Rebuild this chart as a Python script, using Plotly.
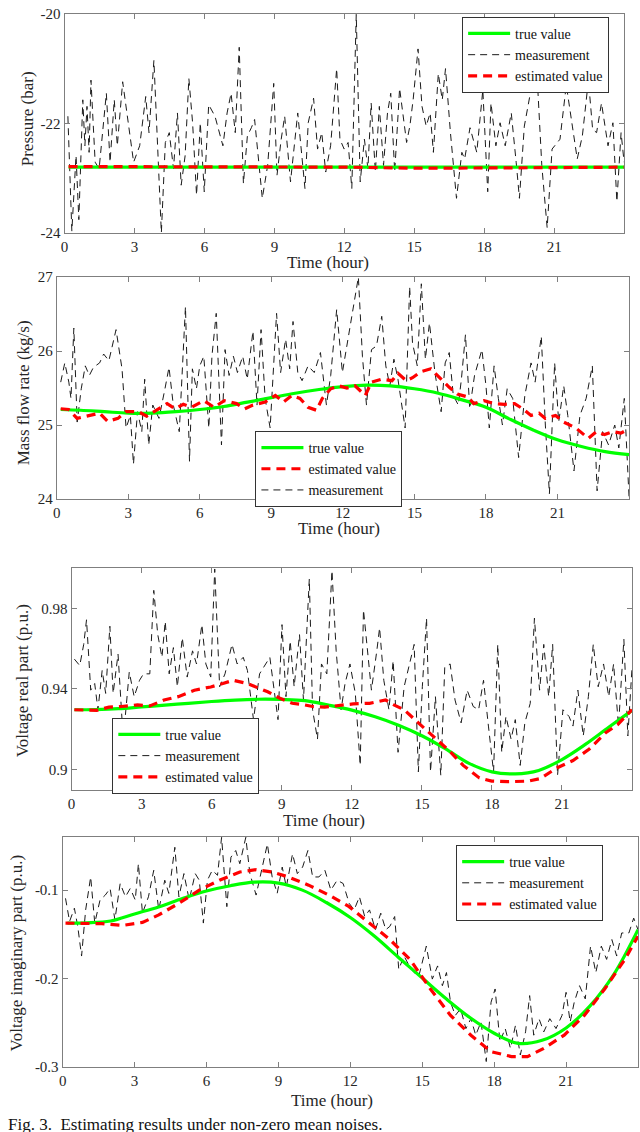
import plotly.graph_objects as go

# ---------------- data ----------------
# panel 1 : pressure
p1_true_t = [0.17, 24.0]
p1_true_v = [-22.8, -22.8]
p1_est_t = [0.17, 3, 6, 9, 12, 15, 18, 21, 24]
p1_est_v = [-22.79, -22.79, -22.8, -22.8, -22.8, -22.82, -22.82, -22.81, -22.8]
p1_meas_t = [0.14, 0.31, 0.49, 0.61, 0.78, 0.87, 0.96, 1.05, 1.13, 1.31, 1.48, 1.79, 1.95, 2.13, 2.26,
             2.49, 2.96, 3.22, 3.48, 3.62, 3.83, 4.01, 4.15, 4.32, 4.49, 4.67, 4.84, 5.0, 5.17, 5.33,
             5.49, 5.66, 5.82, 5.99, 6.18, 6.45, 6.79, 6.97, 7.14, 7.32, 7.49, 7.67, 7.84, 8.01, 8.15,
             8.48, 8.71, 8.97, 9.11, 9.29, 9.44, 9.69, 10.0, 10.31, 10.45, 10.68, 10.85, 11.03, 11.2,
             11.41, 11.67, 11.81, 11.99, 12.16, 12.32, 12.51, 12.68, 12.86, 13.01, 13.15, 13.33, 13.5,
             13.68, 13.85, 13.99, 14.16, 14.37, 14.67, 14.81, 14.95, 15.16, 15.33, 15.51, 15.68, 15.82,
             16.03, 16.2, 16.34, 16.55, 16.81, 17.04, 17.16, 17.39, 17.68, 17.94, 18.15, 18.29, 18.5,
             18.68, 18.9, 19.16, 19.37, 19.51, 19.72, 20.03, 20.3, 20.47, 20.7, 20.91, 21.25, 21.52,
             21.78, 21.99, 22.21, 22.47, 22.65, 22.82, 23.03, 23.31, 23.52, 23.69, 23.87, 24.0]
p1_meas_v = [-21.87, -23.97, -22.59, -23.76, -21.57, -22.41, -21.69, -22.53, -21.21, -22.71, -22.83,
             -21.45, -22.71, -21.57, -22.41, -21.24, -22.71, -22.41, -21.51, -22.17, -20.85, -22.77,
             -24.0, -22.35, -22.17, -22.83, -21.81, -23.13, -22.59, -21.18, -21.99, -23.31, -21.99,
             -23.25, -21.66, -21.87, -22.41, -21.81, -21.45, -22.17, -20.61, -23.1, -22.23, -22.08,
             -21.93, -23.37, -22.77, -21.27, -22.95, -22.29, -21.87, -23.07, -21.81, -23.19, -21.99,
             -21.54, -22.47, -22.17, -22.89, -22.41, -21.0, -22.29, -22.47, -22.35, -23.19, -20.01,
             -23.07, -22.29, -22.83, -21.63, -22.89, -21.69, -22.77, -21.81, -21.45, -22.89, -21.36,
             -22.35, -22.05, -21.57, -20.64, -21.69, -22.05, -21.81, -22.53, -21.09, -21.57, -21.0,
             -22.17, -23.37, -22.53, -22.65, -22.08, -22.53, -21.39, -23.25, -21.63, -22.41, -21.99,
             -22.41, -21.81, -22.71, -23.37, -22.05, -21.33, -21.39, -22.77, -23.91, -22.47, -22.29,
             -21.3, -22.05, -22.65, -22.23, -21.21, -22.11, -22.17, -21.63, -22.41, -21.99, -23.43,
             -22.17, -22.71]

# panel 2 : mass flow rate
p2_true_t = [0.17, 1, 2, 3, 4, 5, 6, 7, 8, 9, 10, 11, 12, 13, 14, 15, 16, 17, 18, 19, 20, 21, 22, 23, 24]
p2_true_v = [25.21, 25.2, 25.18, 25.16, 25.16, 25.18, 25.21, 25.25, 25.31, 25.37, 25.43, 25.48, 25.52,
             25.54, 25.53, 25.49, 25.43, 25.34, 25.24, 25.08, 24.93, 24.8, 24.71, 24.64, 24.6]
p2_est_t = [0.17, 0.5, 0.86, 1.37, 1.8, 2.14, 2.57, 2.91, 3.43, 3.77, 4.29, 4.63, 4.97, 5.31, 5.66, 6.17,
            6.6, 7.03, 7.54, 7.89, 8.23, 8.74, 9.17, 9.51, 9.86, 10.2, 10.54, 10.89, 11.14, 11.49, 11.83,
            12.17, 12.51, 12.94, 13.2, 13.63, 14.06, 14.31, 14.66, 14.92, 15.26, 15.69, 16.12, 16.46,
            16.8, 17.23, 17.49, 17.92, 18.34, 18.77, 19.2, 19.54, 19.89, 20.23, 20.49, 20.92, 21.26,
            21.77, 22.29, 22.63, 22.97, 23.32, 23.66, 24.0]
p2_est_v = [25.22, 25.21, 25.09, 25.13, 25.16, 25.05, 25.09, 25.18, 25.18, 25.12, 25.22, 25.29, 25.22,
            25.28, 25.24, 25.33, 25.24, 25.33, 25.29, 25.22, 25.27, 25.31, 25.4, 25.31, 25.4, 25.36,
            25.24, 25.2, 25.36, 25.49, 25.53, 25.5, 25.53, 25.4, 25.58, 25.62, 25.6, 25.7, 25.6, 25.64,
            25.72, 25.76, 25.62, 25.51, 25.42, 25.38, 25.29, 25.33, 25.29, 25.28, 25.29, 25.22, 25.13,
            25.16, 25.09, 25.13, 25.04, 24.96, 24.82, 24.91, 24.87, 24.91, 24.89, 24.95]
p2_meas_t = [0.17, 0.34, 0.51, 0.6, 0.72, 0.86, 1.03, 1.2, 1.37, 1.54, 1.8, 1.97, 2.19, 2.49, 2.74, 2.91,
             3.09, 3.22, 3.39, 3.57, 3.69, 3.86, 4.03, 4.29, 4.54, 4.71, 4.89, 5.14, 5.4, 5.57, 5.69,
             5.86, 6.0, 6.17, 6.38, 6.51, 6.69, 6.91, 7.06, 7.23, 7.41, 7.58, 7.8, 7.99, 8.23, 8.4, 8.57,
             8.74, 8.95, 9.22, 9.39, 9.6, 9.77, 9.91, 10.11, 10.29, 10.54, 10.8, 11.06, 11.31, 11.49,
             11.74, 11.98, 12.34, 12.65, 12.82, 12.99, 13.2, 13.41, 13.63, 13.8, 13.97, 14.14, 14.31,
             14.61, 14.8, 14.92, 15.12, 15.29, 15.46, 15.63, 15.86, 16.12, 16.29, 16.46, 16.63, 16.84,
             16.97, 17.14, 17.32, 17.52, 17.83, 18.0, 18.14, 18.34, 18.52, 18.69, 18.89, 19.12, 19.37,
             19.63, 19.89, 20.06, 20.32, 20.49, 20.66, 20.88, 21.05, 21.26, 21.43, 21.69, 21.94, 22.2,
             22.46, 22.66, 22.89, 23.14, 23.4, 23.57, 23.8, 24.0]
p2_meas_v = [25.58, 25.84, 25.58, 25.36, 26.31, 25.04, 25.49, 25.8, 25.67, 25.78, 25.84, 25.96, 25.87,
             26.29, 25.76, 24.96, 25.13, 24.47, 25.18, 24.91, 25.62, 24.73, 25.27, 25.09, 25.49, 25.78,
             25.27, 24.91, 26.6, 24.51, 25.76, 25.49, 25.8, 25.93, 24.96, 25.93, 26.51, 24.73, 26.02,
             25.67, 25.93, 25.71, 25.93, 25.62, 26.27, 25.27, 26.29, 25.36, 24.96, 26.51, 25.71, 26.16,
             25.76, 26.4, 25.71, 25.6, 25.8, 25.71, 25.98, 25.27, 25.67, 26.56, 25.71, 26.38, 27.0,
             25.93, 25.27, 26.02, 26.07, 26.47, 25.8, 25.53, 25.89, 25.62, 24.96, 26.87, 26.11, 25.8,
             26.91, 25.89, 26.38, 25.71, 25.18, 25.84, 25.98, 25.4, 25.27, 25.62, 26.22, 25.22, 25.67,
             26.02, 25.53, 24.96, 25.8, 25.36, 25.0, 25.49, 25.36, 24.56, 25.4, 25.84, 25.58, 26.2,
             25.0, 24.07, 25.84, 25.04, 25.53, 25.13, 24.38, 25.13, 25.36, 25.8, 24.11, 24.91, 24.73,
             25.0, 24.69, 25.36, 24.02]

# panel 3 : voltage real part
p3_true_t = [0.12, 1, 2, 3, 4, 5, 6, 7, 8, 9, 10, 11, 12, 13, 14, 15, 16, 17, 18, 19, 20, 21, 22, 23, 24]
p3_true_v = [0.9297, 0.9298, 0.9302, 0.9311, 0.932, 0.9329, 0.9338, 0.9345, 0.9349, 0.9348, 0.9342,
             0.932, 0.9295, 0.9262, 0.922, 0.9168, 0.9104, 0.9032, 0.8989, 0.8979, 0.8996, 0.905,
             0.9125, 0.921, 0.9294]
p3_est_t = [0.12, 1.08, 1.6, 2.13, 2.82, 3.35, 3.96, 4.57, 5.26, 5.96, 6.48, 6.92, 7.53, 8.05, 8.4, 8.92,
            9.45, 9.97, 10.32, 10.84, 11.36, 12.06, 12.76, 13.45, 13.8, 14.24, 14.85, 15.55, 16.24,
            16.77, 17.46, 17.99, 18.68, 19.55, 20.08, 20.77, 21.47, 22.17, 22.87, 23.39, 24.0]
p3_est_v = [0.9297, 0.9294, 0.931, 0.9313, 0.9321, 0.9316, 0.9345, 0.9362, 0.9394, 0.941, 0.9427,
            0.9443, 0.9427, 0.9402, 0.9386, 0.9354, 0.9329, 0.9321, 0.9313, 0.931, 0.9316, 0.9326,
            0.9329, 0.9345, 0.9321, 0.9297, 0.9232, 0.9159, 0.9086, 0.9021, 0.8959, 0.8943, 0.894,
            0.8943, 0.8956, 0.9008, 0.9045, 0.9102, 0.9183, 0.9224, 0.9297]
p3_meas_t = [0.12, 0.35, 0.52, 0.64, 0.82, 0.99, 1.13, 1.31, 1.46, 1.64, 1.78, 1.99, 2.16, 2.3, 2.47,
             2.68, 2.91, 3.08, 3.35, 3.52, 3.69, 3.87, 4.01, 4.18, 4.36, 4.53, 4.74, 4.95, 5.18, 5.35,
             5.58, 5.75, 5.96, 6.13, 6.34, 6.57, 6.87, 7.09, 7.35, 7.53, 7.79, 8.05, 8.49, 8.84, 9.01,
             9.18, 9.36, 9.53, 9.76, 9.93, 10.18, 10.32, 10.53, 10.7, 10.93, 11.15, 11.33, 11.54,
             11.71, 11.92, 12.15, 12.36, 12.5, 12.67, 12.84, 13.07, 13.19, 13.37, 13.59, 13.77, 13.98,
             14.24, 14.47, 14.67, 14.85, 15.02, 15.2, 15.37, 15.58, 15.81, 15.98, 16.21, 16.42, 16.68,
             16.94, 17.2, 17.43, 17.64, 17.85, 18.07, 18.25, 18.42, 18.6, 18.82, 19.0, 19.21, 19.41,
             19.64, 19.82, 20.04, 20.22, 20.43, 20.6, 20.81, 21.04, 21.3, 21.47, 21.68, 21.91, 22.13,
             22.34, 22.55, 22.78, 23.0, 23.21, 23.42, 23.65, 23.82, 24.0]
p3_meas_v = [0.9548, 0.9516, 0.9621, 0.9743, 0.9394, 0.9427, 0.9297, 0.9492, 0.9378, 0.9711, 0.9378,
             0.9573, 0.9248, 0.9264, 0.9484, 0.9362, 0.9443, 0.9475, 0.9475, 0.9889, 0.967, 0.9557,
             0.9735, 0.9475, 0.9605, 0.9411, 0.9654, 0.9459, 0.9589, 0.9524, 0.9719, 0.9524, 0.9459,
             0.9995, 0.9411, 0.9475, 0.9621, 0.9524, 0.9557, 0.9492, 0.9248, 0.9475, 0.9557, 0.9248,
             0.9719, 0.9362, 0.9638, 0.9411, 0.967, 0.9345, 0.9946, 0.9297, 0.9151, 0.9524, 0.9475,
             0.9987, 0.9589, 0.9297, 0.9427, 0.9524, 0.9378, 0.9021, 0.9792, 0.9573, 0.9394, 0.9589,
             0.9703, 0.9443, 0.9297, 0.954, 0.9086, 0.9411, 0.9524, 0.9621, 0.8989, 0.9411, 0.9751,
             0.8989, 0.9362, 0.8972, 0.9508, 0.9524, 0.9345, 0.9232, 0.9394, 0.9313, 0.9297, 0.9443,
             0.9216, 0.8989, 0.9621, 0.9086, 0.9264, 0.9151, 0.9248, 0.9021, 0.9232, 0.9329, 0.9751,
             0.9394, 0.9621, 0.9362, 0.9621, 0.8972, 0.9297, 0.9264, 0.9216, 0.9394, 0.9167, 0.9362,
             0.9621, 0.9411, 0.9524, 0.9362, 0.9524, 0.9216, 0.9646, 0.9167, 0.9508]

# panel 4 : voltage imaginary part
p4_true_t = [0.2, 1, 2, 3, 4, 5, 6, 7, 8, 9, 10, 11, 12, 13, 14, 15, 16, 17, 18, 19, 20, 21, 22, 23, 24]
p4_true_v = [-0.1373, -0.137, -0.135, -0.127, -0.119, -0.1095, -0.101, -0.095, -0.091, -0.092, -0.1,
             -0.114, -0.131, -0.152, -0.176, -0.1995, -0.223, -0.2445, -0.262, -0.2735, -0.27, -0.256,
             -0.231, -0.195, -0.1448]
p4_est_t = [0.12, 1.64, 2.49, 3.33, 4.01, 4.85, 5.7, 6.54, 7.39, 8.07, 8.74, 9.42, 10.26, 11.11, 11.95,
            12.8, 13.65, 14.49, 15.34, 16.18, 17.03, 17.87, 18.72, 19.39, 20.07, 20.92, 21.76, 22.61,
            23.45, 24.0]
p4_est_v = [-0.1373, -0.138, -0.14, -0.1366, -0.128, -0.1149, -0.1, -0.0888, -0.0795, -0.0769, -0.0795,
            -0.0851, -0.0944, -0.1056, -0.1187, -0.1373, -0.156, -0.1784, -0.2119, -0.2418, -0.2642,
            -0.2828, -0.2884, -0.2884, -0.2791, -0.2642, -0.2418, -0.2119, -0.1784, -0.1522]
p4_meas_t = [0.12, 0.29, 0.49, 0.63, 0.79, 0.96, 1.17, 1.34, 1.56, 1.78, 1.98, 2.18, 2.4, 2.62, 2.82,
             3.03, 3.16, 3.33, 3.58, 3.8, 4.01, 4.26, 4.43, 4.68, 4.85, 5.06, 5.28, 5.53, 5.7, 5.87,
             6.04, 6.24, 6.46, 6.63, 6.85, 7.02, 7.22, 7.39, 7.64, 7.81, 8.07, 8.32, 8.54, 8.74, 8.95,
             9.16, 9.33, 9.59, 9.79, 10.01, 10.23, 10.43, 10.69, 10.94, 11.19, 11.45, 11.7, 11.95,
             12.16, 12.38, 12.6, 12.8, 13.05, 13.27, 13.48, 13.65, 13.85, 14.02, 14.24, 14.46, 14.66,
             14.86, 15.17, 15.42, 15.64, 15.84, 16.01, 16.18, 16.38, 16.6, 16.82, 17.03, 17.23, 17.45,
             17.67, 17.87, 18.04, 18.24, 18.46, 18.68, 18.89, 19.09, 19.31, 19.48, 19.65, 19.87, 20.07,
             20.32, 20.58, 20.83, 21.0, 21.17, 21.34, 21.56, 21.8, 22.02, 22.24, 22.47, 22.69, 22.91,
             23.11, 23.32, 23.62, 23.82, 24.0]
p4_meas_v = [-0.1093, -0.1354, -0.1205, -0.141, -0.1746, -0.1224, -0.0851, -0.1373, -0.1112, -0.1056,
             -0.0981, -0.1336, -0.0925, -0.1075, -0.0981, -0.1112, -0.0701, -0.1261, -0.1075, -0.0776,
             -0.1224, -0.0888, -0.1037, -0.0515, -0.1075, -0.0813, -0.1112, -0.0813, -0.0888, -0.1373,
             -0.0888, -0.0776, -0.0832, -0.0403, -0.1187, -0.0627, -0.0552, -0.0701, -0.0403, -0.0813,
             -0.1056, -0.0739, -0.0478, -0.0851, -0.1037, -0.0739, -0.0963, -0.059, -0.0813, -0.0739,
             -0.0552, -0.0851, -0.0851, -0.0776, -0.1, -0.0888, -0.0925, -0.1149, -0.1224, -0.1075,
             -0.1299, -0.1224, -0.1448, -0.1261, -0.1448, -0.141, -0.1299, -0.1896, -0.1746, -0.1858,
             -0.1933, -0.197, -0.1634, -0.2007, -0.1858, -0.2082, -0.1933, -0.2269, -0.2418, -0.2343,
             -0.2567, -0.2455, -0.2642, -0.2493, -0.294, -0.2269, -0.2119, -0.2716, -0.2567, -0.2791,
             -0.253, -0.2866, -0.2604, -0.2194, -0.2642, -0.2455, -0.2604, -0.2455, -0.2567, -0.2418,
             -0.2157, -0.2493, -0.2269, -0.2082, -0.2231, -0.1634, -0.1933, -0.1634, -0.1784, -0.156,
             -0.1746, -0.1485, -0.1485, -0.1317, -0.1448]

x_ticks = [0, 3, 6, 9, 12, 15, 18, 21]
y1_ticks = [-24, -22, -20]
y1_text = ["-24", "-22", "-20"]
y2_ticks = [24, 25, 26, 27]
y3_ticks = [0.9, 0.94, 0.98]
y3_text = ["0.9", "0.94", "0.98"]
y4_ticks = [-0.3, -0.2, -0.1]
y4_text = ["-0.3", "-0.2", "-0.1"]

# ---------------- figure ----------------
W, H = 640, 1132
FONT = "'Liberation Serif', 'Times New Roman', Times, serif"


def px(x):
    return x / W


def py(y):
    return 1 - y / H


fig = go.Figure()

panels = [
    # true, estimated, measurement, legend ranks (true, meas, est)
    (p1_true_t, p1_true_v, p1_est_t, p1_est_v, p1_meas_t, p1_meas_v, (1, 2, 3)),
    (p2_true_t, p2_true_v, p2_est_t, p2_est_v, p2_meas_t, p2_meas_v, (1, 3, 2)),
    (p3_true_t, p3_true_v, p3_est_t, p3_est_v, p3_meas_t, p3_meas_v, (1, 2, 3)),
    (p4_true_t, p4_true_v, p4_est_t, p4_est_v, p4_meas_t, p4_meas_v, (1, 2, 3)),
]

for i, (tt, tv, et, ev, mt, mv, rk) in enumerate(panels):
    n = "" if i == 0 else str(i + 1)
    leg = "legend" + n
    fig.add_trace(go.Scatter(x=mt, y=mv, mode="lines", name="measurement",
                             line=dict(color="#1a1a1a", width=1, dash="7px,5px"),
                             xaxis="x" + n, yaxis="y" + n, legend=leg, legendrank=rk[1]))
    fig.add_trace(go.Scatter(x=tt, y=tv, mode="lines", name="true value",
                             line=dict(color="#00ff00", width=3.2, shape="spline", smoothing=1.0),
                             xaxis="x" + n, yaxis="y" + n, legend=leg, legendrank=rk[0]))
    fig.add_trace(go.Scatter(x=et, y=ev, mode="lines", name="estimated value",
                             line=dict(color="#ff0000", width=3.2, dash="9px,6px"),
                             xaxis="x" + n, yaxis="y" + n, legend=leg, legendrank=rk[2]))

# panel boxes in pixels: left, right, top, bottom
boxes = [(61, 624, 6, 228), (53, 629, 273, 498), (68, 632, 568, 793), (59, 638, 841, 1074)]
y_ranges = [[-24, -20], [24, 27], [0.89, 1.0], [-0.3, -0.04]]
y_tickvals = [y1_ticks, y2_ticks, y3_ticks, y4_ticks]
y_ticktext = [y1_text, [str(v) for v in y2_ticks], y3_text, y4_text]

axis_style = dict(showline=True, linecolor="#7f7f7f", linewidth=1, mirror="ticks",
                  ticks="inside", ticklen=5, tickcolor="#7f7f7f", showgrid=False,
                  zeroline=False, tickfont=dict(family=FONT, size=15, color="#262626"))

layout = dict(width=W, height=H, margin=dict(l=0, r=0, t=0, b=0),
              paper_bgcolor="white", plot_bgcolor="white",
              font=dict(family=FONT, size=15, color="#262626"))

for i, (l, r, t, b) in enumerate(boxes):
    n = "" if i == 0 else str(i + 1)
    layout["xaxis" + n] = dict(axis_style, domain=[px(l), px(r)], range=[0, 24],
                               tickvals=x_ticks, anchor="y" + n)
    layout["yaxis" + n] = dict(axis_style, domain=[py(b), py(t)], range=y_ranges[i],
                               tickvals=y_tickvals[i], ticktext=y_ticktext[i], anchor="x" + n)

# legend boxes: left, top
legend_pos = [(461, 9), (253, 429), (109, 720), (455, 849)]
for i, (l, t) in enumerate(legend_pos):
    n = "" if i == 0 else str(i + 1)
    layout["legend" + n] = dict(x=px(l), y=py(t), xanchor="left", yanchor="top",
                                bgcolor="white", bordercolor="#333333", borderwidth=1,
                                font=dict(family=FONT, size=14, color="#111111"),
                                tracegroupgap=0, itemwidth=42)

fig.update_layout(layout)

# axis titles as annotations
x_titles = [(326, 258), (337, 528), (322, 824), (330, 1108)]
y_titles = [("Pressure (bar)", 24, 112), ("Mass flow rate (kg/s)", 20, 390),
            ("Voltage real part (p.u.)", 18, 682), ("Voltage imaginary part (p.u.)", 13, 958)]
for (x, y) in x_titles:
    fig.add_annotation(text="Time (hour)", x=px(x), y=py(y), xref="paper", yref="paper",
                       showarrow=False, xanchor="center", yanchor="middle",
                       font=dict(family=FONT, size=17, color="#262626"))
for (txt, x, y) in y_titles:
    fig.add_annotation(text=txt, x=px(x), y=py(y), xref="paper", yref="paper", textangle=-90,
                       showarrow=False, xanchor="center", yanchor="middle",
                       font=dict(family=FONT, size=17, color="#262626"))

# caption, cut by the bottom edge as in the source picture
fig.add_annotation(text="Fig. 3.  Estimating results under non-zero mean noises.",
                   x=px(2), y=py(1133), xref="paper", yref="paper", showarrow=False,
                   xanchor="left", yanchor="middle", font=dict(family=FONT, size=17, color="#111111"))

# the page body has a default margin; drop it so the figure sits at the window corner
fig.write_html("out.html", config={"displayModeBar": False},
               post_script="document.body.style.margin='0';")
